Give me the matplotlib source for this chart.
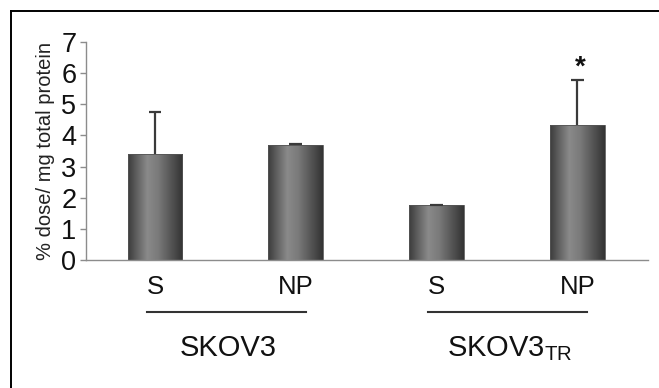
import numpy as np
import matplotlib
matplotlib.use("Agg")
import matplotlib.pyplot as plt
from matplotlib.colors import LinearSegmentedColormap
from matplotlib.lines import Line2D
from matplotlib import transforms

plt.rcParams['font.family'] = ['Liberation Sans', 'DejaVu Sans']

# data
conditions = ["S", "NP", "S", "NP"]
uptake = [3.40, 3.68, 1.75, 4.32]
uptake_err = [1.36, 0.04, 0.03, 1.45]
groups = ["SKOV3", r"SKOV3$_{\mathregular{TR}}$"]
significant = [False, False, False, True]

x = np.arange(len(uptake))
width = 0.39

fig = plt.figure(figsize=(6.59, 3.88), dpi=100)
ax = fig.add_axes([0.1305, 0.3299, 0.983 - 0.1305, 0.8918 - 0.3299])

bars = ax.bar(x, uptake, width, color="none", edgecolor="#555555", linewidth=0.6, zorder=2)

# horizontal shading across each bar, dark at the edges
shade = LinearSegmentedColormap.from_list(
    "shade", [(0.0, "#3c3c3c"), (0.35, "#8a8a8a"), (0.55, "#7a7a7a"), (1.0, "#333333")])
grad = np.linspace(0, 1, 256).reshape(1, -1)
for b in bars:
    im = ax.imshow(grad, cmap=shade, aspect="auto", zorder=1,
                   extent=[b.get_x(), b.get_x() + b.get_width(), 0, b.get_height()])
    im.set_clip_path(b)

# upper-only error bars
tops = np.array(uptake) + np.array(uptake_err)
ax.vlines(x, uptake, tops, color="#3a3a3a", linewidth=1.6, zorder=3)
ax.hlines(tops, x - 0.045, x + 0.045, color="#3a3a3a", linewidth=1.6, zorder=3)

for xi, ti, s in zip(x, tops, significant):
    if s:
        ax.text(xi + 0.02, ti + 0.42, "*", ha="center", va="center", fontsize=20,
                fontweight="bold", color="#111111")

ax.set_xlim(-0.49, 3.5)
ax.set_ylim(0, 7)
ax.set_yticks(range(0, 8))
ax.set_xticks([])
for side in ["top", "right"]:
    ax.spines[side].set_visible(False)
for side in ["left", "bottom"]:
    ax.spines[side].set_color("#8c8c8c")
    ax.spines[side].set_linewidth(1.0)
ax.tick_params(axis="y", direction="out", length=4, width=1, color="#8c8c8c",
               labelsize=19.5, pad=3, labelcolor="#111111")
ax.set_ylabel("% dose/ mg total protein", fontsize=14.5, color="#222222", labelpad=4)

trans = transforms.blended_transform_factory(ax.transData, ax.transAxes)
for xi, lab in zip(x, conditions):
    ax.text(xi, -0.125, lab, transform=trans, ha="center", va="center",
            fontsize=18.5, color="#111111")

for gi, name in enumerate(groups):
    x0, x1 = 2 * gi, 2 * gi + 1
    ax.add_line(Line2D([x0 - 0.06, x1 + 0.07], [-0.2385, -0.2385], transform=trans,
                       color="#333333", linewidth=1.5, clip_on=False))
    ax.text((x0 + x1) / 2 + 0.02, -0.405, name, transform=trans, ha="center", va="center",
            fontsize=21, color="#111111")

# outer frame (only top and left visible)
fig.add_artist(Line2D([10.5 / 659, 10.5 / 659], [0, 1 - 10.5 / 388], transform=fig.transFigure,
                      color="black", linewidth=1.4))
fig.add_artist(Line2D([10.5 / 659, 1], [1 - 10.5 / 388, 1 - 10.5 / 388], transform=fig.transFigure,
                      color="black", linewidth=1.4))

fig.savefig("out.png", dpi=100)
